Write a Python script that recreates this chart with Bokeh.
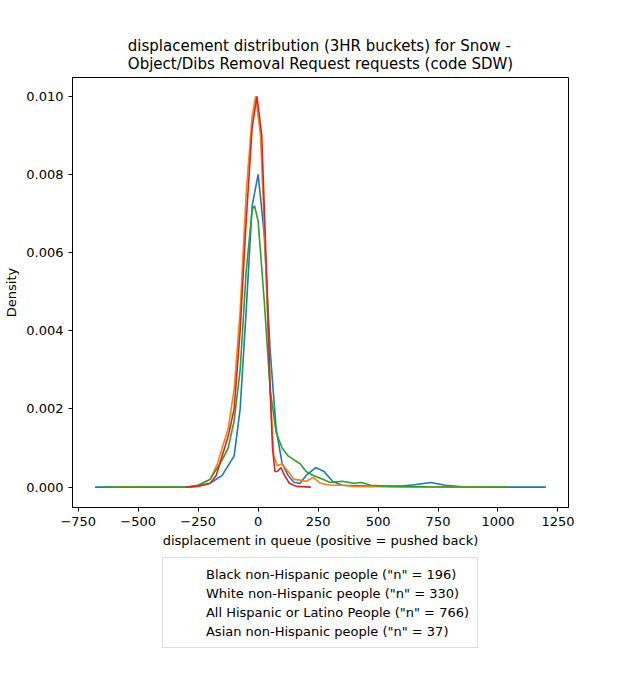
from bokeh.plotting import figure
from bokeh.layouts import column
from bokeh.models import Legend, LegendItem, FixedTicker, CustomJSTickFormatter
from bokeh.embed import file_html
from bokeh.resources import INLINE

black_x = [-680,-300,-250,-200,-150,-100,-75,-50,-25,0,25,50,75,100,125,150,175,200,240,275,310,350,450,600,650,720,780,850,1000,1200]
black_y = [0,0,0.00003,0.0001,0.0003,0.0008,0.002,0.0045,0.0072,0.008,0.0065,0.0035,0.0015,0.0006,0.0003,0.00012,0.0001,0.0003,0.0005,0.0004,0.00015,0.00005,0.00003,0.00003,0.00006,0.00012,0.00005,0.00001,0,0]
white_x = [-600,-300,-250,-200,-170,-150,-125,-100,-75,-50,-25,-10,10,30,50,65,80,100,125,150,175,200,230,260,300,350,400,500,700,1040]
white_y = [0,0,0.00005,0.0002,0.0006,0.001,0.0015,0.0025,0.0045,0.0075,0.0095,0.0100,0.009,0.006,0.0025,0.0008,0.00055,0.0006,0.0004,0.0002,0.00018,0.00015,0.00025,0.0001,0.00005,0.00005,0.00002,0.00001,0,0]
hisp_x = [-640,-300,-250,-200,-150,-125,-100,-75,-50,-25,-15,0,25,50,75,100,125,150,175,200,230,270,300,350,400,430,470,550,700,1040]
hisp_y = [0,0,0.00005,0.0002,0.0007,0.001,0.0017,0.003,0.0055,0.0071,0.0072,0.0068,0.0048,0.0025,0.0014,0.001,0.0008,0.0007,0.0006,0.0004,0.0003,0.0002,0.00012,0.00015,0.0001,0.00012,0.00005,0.00002,0.00001,0]
asian_x = [-300,-250,-200,-175,-150,-125,-100,-75,-50,-25,-5,15,35,50,60,70,80,95,110,130,160,220]
asian_y = [0,0.00002,0.0001,0.0003,0.0008,0.0013,0.002,0.004,0.0068,0.0092,0.01,0.009,0.0055,0.0025,0.001,0.0004,0.0004,0.0005,0.0003,0.0001,0.00002,0]

series = [
    ('Black non-Hispanic people ("n" = 196)', black_x, black_y, "#1f77b4"),
    ('White non-Hispanic people ("n" = 330)', white_x, white_y, "#ff7f0e"),
    ('All Hispanic or Latino People ("n" = 766)', hisp_x, hisp_y, "#2ca02c"),
    ('Asian non-Hispanic people ("n" = 37)', asian_x, asian_y, "#d62728"),
]

p = figure(width=624, height=557, output_backend="svg", toolbar_location=None,
           x_range=(-774, 1294), y_range=(-0.00052, 0.01048),
           title="displacement distribution (3HR buckets) for Snow -\nObject/Dibs Removal Request requests (code SDW)",
           min_border_left=72, min_border_right=56, min_border_top=77, min_border_bottom=50)
p.title.align = "center"
p.title.text_font = "DejaVu Sans"
p.title.text_font_size = "15px"
p.title.text_font_style = "normal"
p.title.text_color = "black"
p.grid.visible = False
p.outline_line_color = "black"
p.xaxis.ticker = FixedTicker(ticks=[-750,-500,-250,0,250,500,750,1000,1250])
p.yaxis.ticker = FixedTicker(ticks=[0,0.002,0.004,0.006,0.008,0.010])
p.yaxis.formatter = CustomJSTickFormatter(code="return tick.toFixed(3);")
p.xaxis.axis_label = "displacement in queue (positive = pushed back)"
p.yaxis.axis_label = "Density"
for ax in (p.xaxis, p.yaxis):
    ax.axis_label_text_font = "DejaVu Sans"
    ax.axis_label_text_font_size = "13px"
    ax.axis_label_text_font_style = "normal"
    ax.axis_label_text_color = "black"
    ax.major_label_text_font = "DejaVu Sans"
    ax.major_label_text_font_size = "13px"
    ax.major_label_text_color = "black"
    ax.major_tick_in = 0
    ax.major_tick_out = 4
    ax.minor_tick_out = 0
    ax.minor_tick_in = 0
    ax.axis_label_standoff = 4

lf = figure(width=624, height=115, output_backend="svg", toolbar_location=None,
            x_range=(0, 1), y_range=(0, 1), min_border=0)
lf.axis.visible = False
lf.grid.visible = False
lf.outline_line_color = None

items = []
for name, xs, ys, c in series:
    p.line(xs, ys, line_color=c, line_width=1.6)
    r = lf.line([], [], line_color=c, line_width=1.6)
    items.append(LegendItem(label=name, renderers=[r]))
legend = Legend(items=items, location="top_center", label_text_font="DejaVu Sans",
                label_text_font_size="13px", label_text_color="black",
                border_line_color="#bbbbbb", border_line_width=1,
                padding=8, spacing=3, label_height=16, glyph_height=16, glyph_width=30, margin=0)
lf.add_layout(legend)

open("out.html", "w").write(file_html(column(p, lf, spacing=0), INLINE))
